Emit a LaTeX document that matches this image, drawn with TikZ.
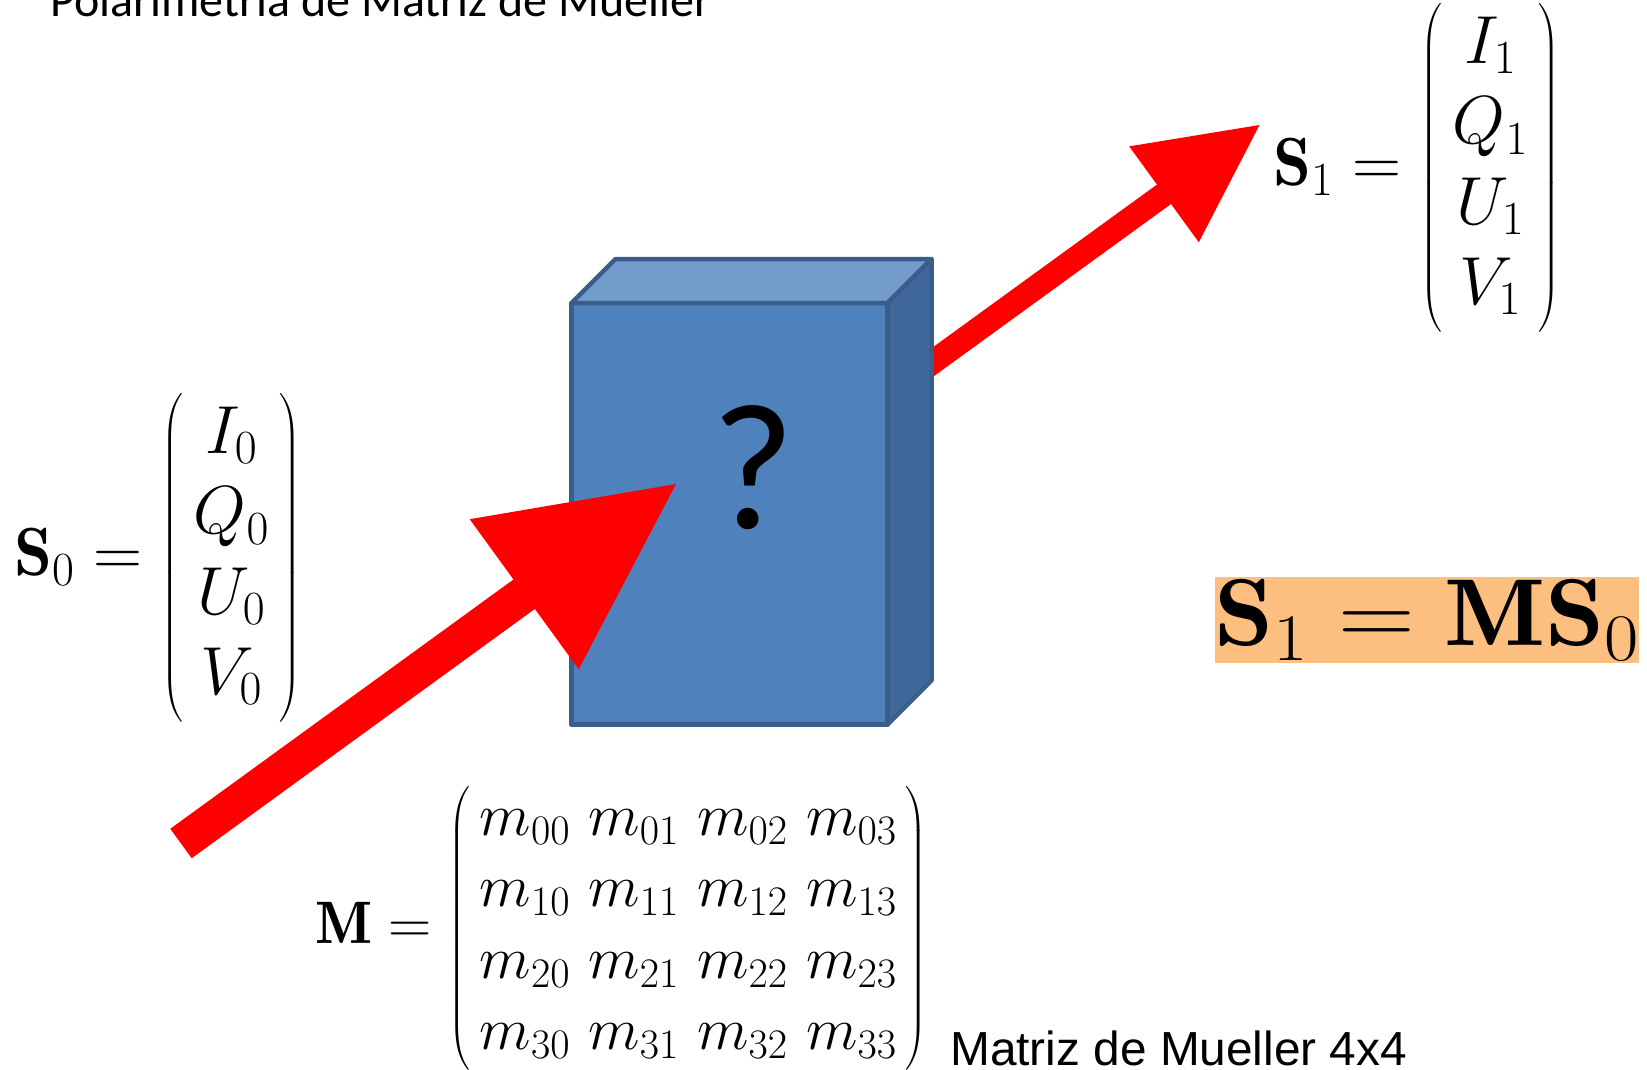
\documentclass[tikz,border=0pt]{standalone}
\usepackage{fix-cm}
\usepackage{amsmath}
\usepackage{fontspec}
\newfontfamily\calibri{Carlito}
\newfontfamily\arialf{Liberation Sans}
\definecolor{boxfront}{RGB}{79,129,189}
\definecolor{boxtop}{RGB}{115,155,203}
\definecolor{boxside}{RGB}{65,104,154}
\definecolor{boxline}{RGB}{57,94,139}
\definecolor{eqbg}{RGB}{253,191,128}
\begin{document}
\begin{tikzpicture}[x=1pt,y=-1pt,
  face/.style={draw=boxline, line width=4.5pt, line join=round},
  redshaft/.style={draw=red, line cap=butt},
  redhead/.style={fill=red},
  eq/.style={inner sep=0pt, anchor=west},
  vecfont/.style={font=\fontsize{68}{80.4}\selectfont},
]
\useasboundingbox (0,0) rectangle (1647,1069);

% outgoing arrow (behind the box)
\coordinate (a2s) at (905,382.3);
\coordinate (a2b) at (1167.2,191.95);
\coordinate (a2l) at (1129.2,146.35);
\coordinate (a2r) at (1198.8,242.25);
\coordinate (a2t) at (1259.5,125);
\draw[redshaft, line width=24pt] (a2s) -- (a2b);
\fill[redhead] (a2l) -- (a2t) -- (a2r) -- cycle;

% box
\fill[boxfront] (571.5,303) rectangle (887.5,724.5);
\filldraw[face, fill=boxtop] (571.5,303) -- (615.5,259) -- (931.5,259) -- (887.5,303) -- cycle;
\filldraw[face, fill=boxside] (887.5,303) -- (931.5,259) -- (931.5,680.5) -- (887.5,724.5) -- cycle;
\draw[face] (571.5,303) rectangle (887.5,724.5);
\node[font=\calibri\fontsize{180}{180}\selectfont, inner sep=0pt] (q) at (753,468) {?};

% incoming arrow (in front of the box)
\coordinate (a1s) at (181,843.5);
\coordinate (a1b) at (528.2,591.3);
\coordinate (a1l) at (469.7,519.2);
\coordinate (a1r) at (578.7,669.2);
\coordinate (a1t) at (676,484);
\draw[redshaft, line width=36.4pt] (a1s) -- (a1b);
\fill[redhead] (a1l) -- (a1t) -- (a1r) -- cycle;

% texts
\node[anchor=base west, inner sep=0pt, font=\calibri\fontsize{48}{57}\selectfont] (title) at (50.4,16) {Polarimetria de Matriz de Mueller};

\node[eq, vecfont] (s0) at (14,558) {\arraycolsep=11pt $\mathbf{S}_0 = \left(\begin{array}{c} I_0\\ Q_0\\ U_0\\ V_0 \end{array}\right)$};

\node[eq, vecfont] (s1) at (1273,168) {\arraycolsep=11pt $\mathbf{S}_1 = \left(\begin{array}{c} I_1\\ Q_1\\ U_1\\ V_1 \end{array}\right)$};

\node[eq, font=\fontsize{60}{71.5}\selectfont] (m) at (315,928) {\arraycolsep=9.2pt $\mathbf{M} = \left(\begin{array}{cccc}
m_{00} & m_{01} & m_{02} & m_{03}\\
m_{10} & m_{11} & m_{12} & m_{13}\\
m_{20} & m_{21} & m_{22} & m_{23}\\
m_{30} & m_{31} & m_{32} & m_{33}
\end{array}\right)$};

\node[anchor=base west, inner sep=0pt, font=\arialf\fontsize{47.8}{57}\selectfont] (lbl) at (950,1065) {Matriz de Mueller 4x4};

\node[fill=eqbg, inner sep=0pt, xscale=1.12, minimum width=375pt, minimum height=86pt, font=\fontsize{95}{114}\selectfont] (eqn) at (1427,620) {$\mathbf{S}_1 = \mathbf{MS}_0$};
\end{tikzpicture}
\end{document}
